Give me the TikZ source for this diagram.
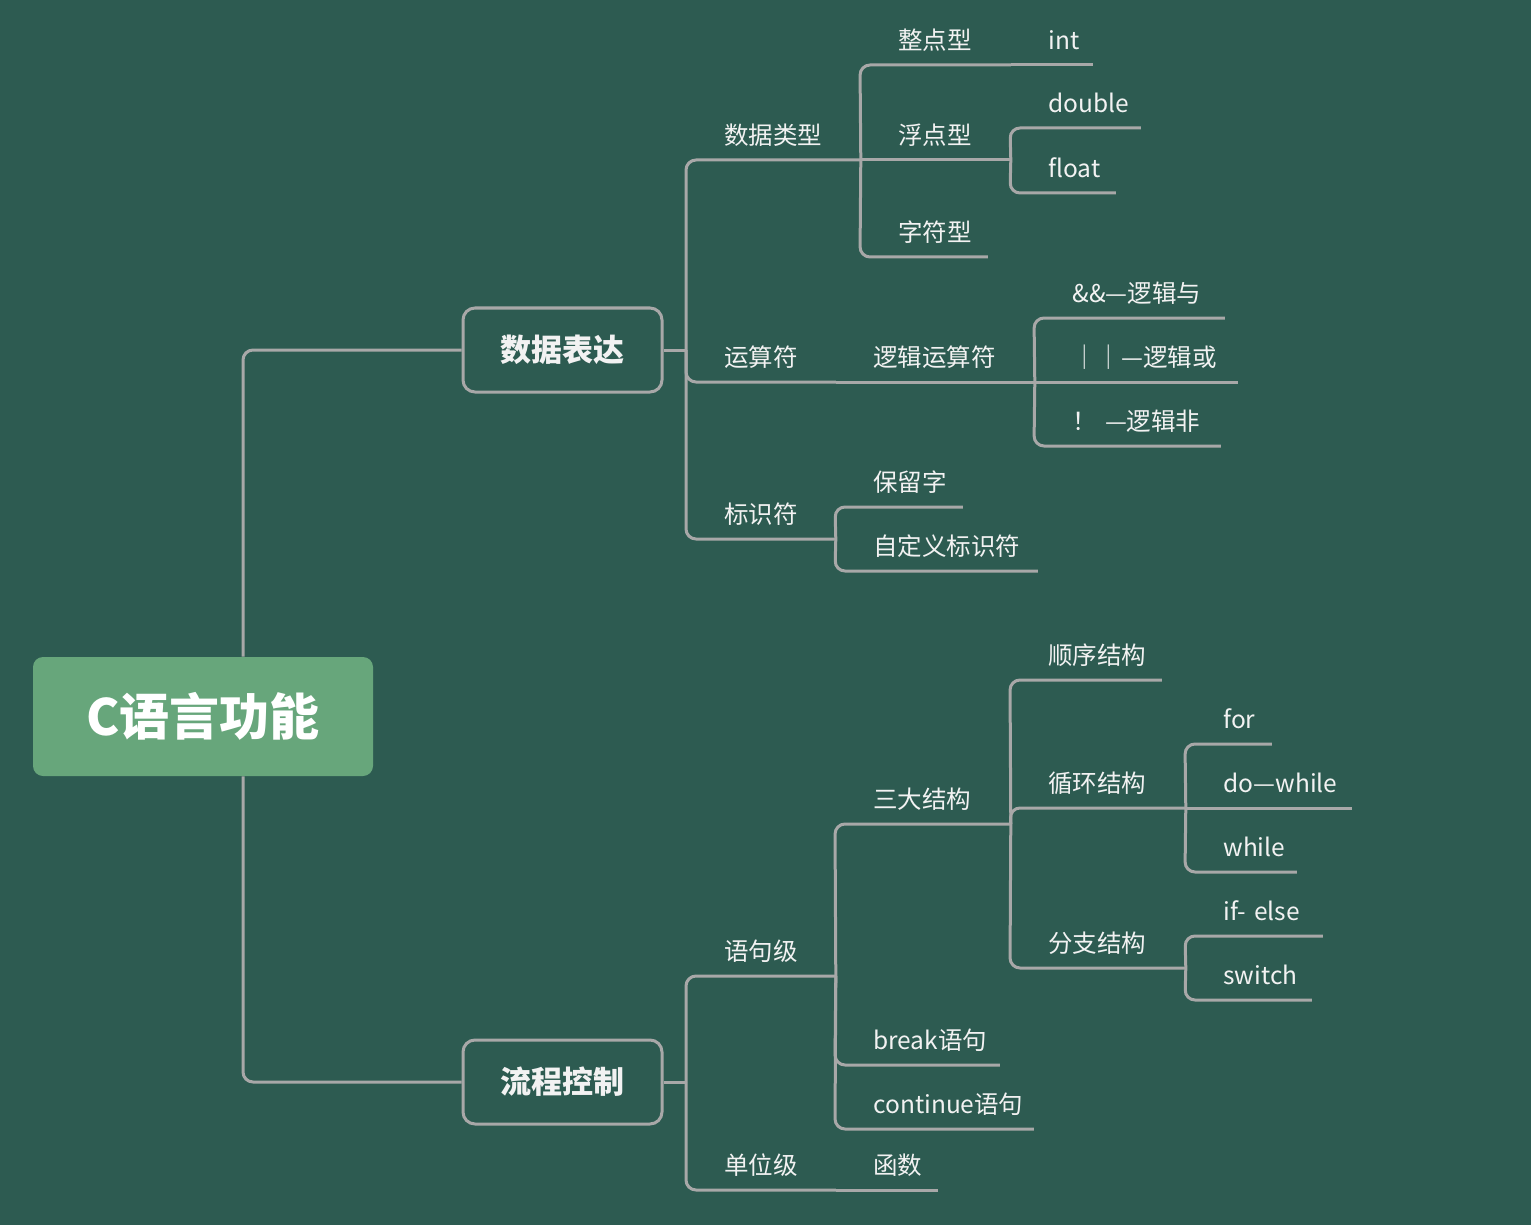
\documentclass[tikz,border=0pt]{standalone}
\usepackage{fontspec}
\setmainfont{Noto Sans CJK SC}
\definecolor{bg}{HTML}{2D5B51}
\definecolor{leaf}{HTML}{67A67B}
\definecolor{lgray}{HTML}{A8A8A8}
\definecolor{txt}{HTML}{F2F2F2}

\begin{document}
\begin{tikzpicture}[x=0.5pt,y=-0.5pt,
  conn/.style={draw=lgray,line width=1.5pt,rounded corners=5pt},
  item/.style={anchor=south west,inner xsep=0pt,inner ysep=7.5pt,text depth=0pt,
    align=left,text=txt,font=\fontsize{12.25pt}{14pt}\selectfont,
    execute at begin node={\noindent\hspace*{19pt}}},
  topbox/.style={draw=lgray,line width=1.5pt,rounded corners=6pt,minimum width=99.5pt,
    minimum height=42pt,text=txt,font=\fontsize{15.5pt}{18pt}\selectfont\bfseries},
  rootbox/.style={fill=leaf,rounded corners=5pt,minimum width=170pt,minimum height=59.5pt,
    text=white,font=\fontsize{25pt}{30pt}\selectfont\bfseries}]
\fill[bg] (0,0) rectangle (1531,1225);
\useasboundingbox (0,0) rectangle (1531,1225);

\node[rootbox] (c) at (203,716.5) {C语言功能};
\node[topbox] (sj) at (562.5,350) {数据表达};
\node[topbox] (lc) at (562.5,1082) {流程控制};
\coordinate (sjb) at (686,350);
\coordinate (lcb) at (686,1082);

\node[item,text width=87pt] (lx) at (686,160) {数据类型};
\node[item,text width=74.5pt] (ys) at (686,382) {运算符};
\node[item,text width=74.5pt] (bs) at (686,539) {标识符};
\node[item,text width=75pt] (zd) at (860,65) {整点型};
\node[item,text width=75pt] (fd) at (860,160) {浮点型};
\node[item,text width=63.5pt] (zf) at (860,257) {字符型};
\node[item,text width=41pt] (int) at (1010,65) {int};
\node[item,text width=65pt] (dbl) at (1010,128) {double};
\node[item,text width=52.5pt] (flt) at (1010,193) {float};
\node[item,text width=99.5pt] (lj) at (835,382) {逻辑运算符};
\node[item,text width=95pt] (yu) at (1034,318) {\&\&—逻辑与};
\node[item,text width=101.5pt] (huo) at (1034,382) {｜｜—逻辑或};
\node[item,text width=93pt] (fei) at (1034,446) {！ —逻辑非};
\node[item,text width=63.5pt] (bl) at (835,507) {保留字};
\node[item,text width=101pt] (zdy) at (835,571) {自定义标识符};

\node[item,text width=74.5pt] (yj) at (686,976) {语句级};
\node[item,text width=74.5pt] (dw) at (686,1190) {单位级};
\node[item,text width=51pt] (hs) at (835,1190) {函数};
\node[item,text width=87.5pt] (sd) at (835,824) {三大结构};
\node[item,text width=82pt] (brk) at (835,1065) {break语句};
\node[item,text width=99pt] (cnt) at (835,1129) {continue语句};
\node[item,text width=75.5pt] (sx) at (1010,680) {顺序结构};
\node[item,text width=87.5pt] (xh) at (1010,808) {循环结构};
\node[item,text width=87.5pt] (fz) at (1010,968) {分支结构};
\node[item,text width=43pt] (fr) at (1185,744) {for};
\node[item,text width=83pt] (dow) at (1185,808) {do—while};
\node[item,text width=55.5pt] (whl) at (1185,872) {while};
\node[item,text width=68.5pt] (ife) at (1185,936) {if- else};
\node[item,text width=63pt] (swi) at (1185,1000) {switch};

\draw[conn] ([xshift=20pt]c.north) |- (sj.west);
\draw[conn] ([xshift=20pt]c.south) |- (lc.west);
\draw[conn] (sj.east) -- (sjb);
\draw[conn] (lc.east) -- (lcb);

\draw[conn] (sjb) -- (lx.south west) -- (lx.south east);
\draw[conn] (sjb) -- (ys.south west) -- (ys.south east);
\draw[conn] (sjb) -- (bs.south west) -- (bs.south east);
\draw[conn] (lx.south east) -- (zd.south west) -- (zd.south east);
\draw[conn] (lx.south east) -- (fd.south east);
\draw[conn] (lx.south east) -- (zf.south west) -- (zf.south east);
\draw[conn] (zd.south east) -- (int.south east);
\draw[conn] (fd.south east) -- (dbl.south west) -- (dbl.south east);
\draw[conn] (fd.south east) -- (flt.south west) -- (flt.south east);
\draw[conn] (ys.south east) -- (lj.south east);
\draw[conn] (lj.south east) -- (yu.south west) -- (yu.south east);
\draw[conn] (lj.south east) -- (huo.south east);
\draw[conn] (lj.south east) -- (fei.south west) -- (fei.south east);
\draw[conn] (bs.south east) -- (bl.south west) -- (bl.south east);
\draw[conn] (bs.south east) -- (zdy.south west) -- (zdy.south east);

\draw[conn] (lcb) -- (yj.south west) -- (yj.south east);
\draw[conn] (lcb) -- (dw.south west) -- (dw.south east);
\draw[conn] (dw.south east) -- (hs.south east);
\draw[conn] (yj.south east) -- (sd.south west) -- (sd.south east);
\draw[conn] (yj.south east) -- (brk.south west) -- (brk.south east);
\draw[conn] (yj.south east) -- (cnt.south west) -- (cnt.south east);
\draw[conn] (sd.south east) -- (sx.south west) -- (sx.south east);
\draw[conn] (sd.south east) -- (xh.south west) -- (xh.south east);
\draw[conn] (sd.south east) -- (fz.south west) -- (fz.south east);
\draw[conn] (xh.south east) -- (fr.south west) -- (fr.south east);
\draw[conn] (xh.south east) -- (dow.south east);
\draw[conn] (xh.south east) -- (whl.south west) -- (whl.south east);
\draw[conn] (fz.south east) -- (ife.south west) -- (ife.south east);
\draw[conn] (fz.south east) -- (swi.south west) -- (swi.south east);
\end{tikzpicture}
\end{document}
